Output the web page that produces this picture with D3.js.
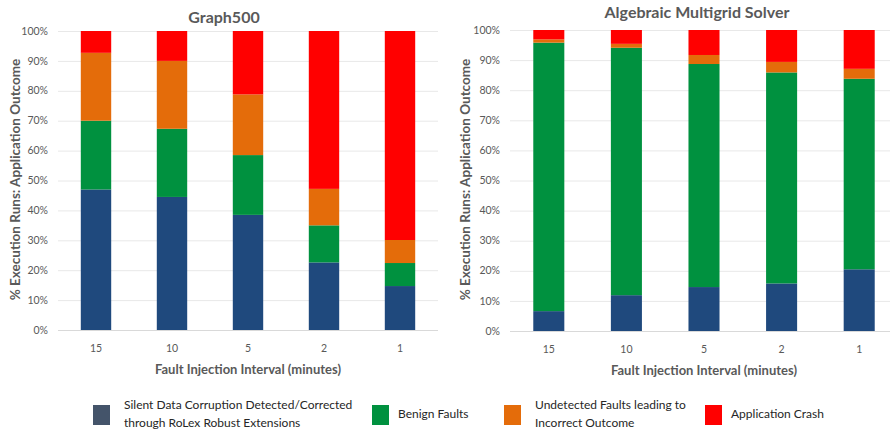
<!DOCTYPE html>
<html>
<head>
<meta charset="utf-8">
<script src="https://cdn.jsdelivr.net/npm/d3@7"></script>
<style>
  body { margin: 0; background: #fff; }
  text { font-family: Lato, "Open Sans", sans-serif; }
</style>
</head>
<body>
<svg></svg>
<script>
// Categories and series
let intervals = ["15", "10", "5", "2", "1"];
let seriesKeys = ["sdc", "benign", "undetected", "crash"];
let seriesLabels = [
    ["Silent Data Corruption Detected/Corrected", "through RoLex Robust Extensions"],
    ["Benign Faults"],
    ["Undetected Faults leading to", "Incorrect Outcome"],
    ["Application Crash"]
];
let yTicks = [0, 10, 20, 30, 40, 50, 60, 70, 80, 90, 100];

// Graph500 (% of runs)
let g500Sdc = [47.0, 44.5, 38.5, 22.6, 14.7];
let g500Benign = [23.0, 22.8, 20.0, 12.4, 7.7];
let g500Undetected = [22.7, 22.7, 20.3, 12.2, 7.7];
let g500Crash = [7.3, 10.0, 21.2, 52.8, 69.9];

// Algebraic Multigrid Solver (% of runs)
let amgSdc = [6.6, 11.9, 14.6, 15.8, 20.5];
let amgBenign = [89.2, 82.2, 74.1, 70.1, 63.3];
let amgUndetected = [1.1, 1.3, 3.0, 3.5, 3.3];
let amgCrash = [3.1, 4.6, 8.3, 10.6, 12.9];

let width = 890,
    height = 435;

let barColors = ["#1F497D", "#00913F", "#E46C0A", "#FF0000"];
let legendColors = ["#44546A", "#00913F", "#E46C0A", "#FF0000"];
let textGray = "#595959";

let svg = d3.select("svg")
    .attr("width", width)
    .attr("height", height);

// Build rows for d3.stack
function makeRows(sdc, benign, undetected, crash) {
    return intervals.map((k, i) => ({
        interval: k, sdc: sdc[i], benign: benign[i],
        undetected: undetected[i], crash: crash[i]
    }));
}

let panels = [
    {
        title: "Graph500", titleX: 224, titleY: 23,
        x0: 58, x1: 438, gridEnd: 438, top: 31, bottom: 330, yTitleX: 15,
        rows: makeRows(g500Sdc, g500Benign, g500Undetected, g500Crash)
    },
    {
        title: "Algebraic Multigrid Solver", titleX: 697, titleY: 18,
        x0: 510, x1: 898, gridEnd: 890, top: 30, bottom: 331, yTitleX: 465,
        rows: makeRows(amgSdc, amgBenign, amgUndetected, amgCrash)
    }
];

let stack = d3.stack().keys(seriesKeys);

panels.forEach(p => {
    let x = d3.scaleBand()
        .domain(intervals)
        .range([p.x0, p.x1])
        .paddingInner(0.6)
        .paddingOuter(0.3);

    let y = d3.scaleLinear()
        .domain([0, 100])
        .range([p.bottom, p.top]);

    let g = svg.append("g");

    // Gridlines
    g.selectAll("line.grid")
        .data(yTicks)
        .enter().append("line")
        .attr("x1", p.x0)
        .attr("x2", p.gridEnd)
        .attr("y1", d => y(d) + 0.5)
        .attr("y2", d => y(d) + 0.5)
        .style("stroke", d => d === 0 ? "#d9d9d9" : "#e8e8e8")
        .style("stroke-width", "1px");

    // Y tick labels
    g.selectAll("text.ytick")
        .data(yTicks)
        .enter().append("text")
        .attr("x", p.x0 - 10)
        .attr("y", d => y(d))
        .attr("dy", "0.35em")
        .attr("text-anchor", "end")
        .style("font-size", "10.5px")
        .style("fill", textGray)
        .text(d => d + "%");

    // Stacked bars
    g.selectAll("g.layer")
        .data(stack(p.rows))
        .enter().append("g")
        .style("fill", (d, i) => barColors[i])
        .selectAll("rect")
        .data(d => d)
        .enter().append("rect")
        .attr("x", d => x(d.data.interval))
        .attr("width", x.bandwidth())
        .attr("y", d => y(d[1]))
        .attr("height", d => y(d[0]) - y(d[1]));

    // X tick labels
    g.selectAll("text.xtick")
        .data(intervals)
        .enter().append("text")
        .attr("x", d => x(d) + x.bandwidth() / 2)
        .attr("y", p.bottom + 18)
        .attr("dy", "0.35em")
        .attr("text-anchor", "middle")
        .style("font-size", "10.5px")
        .style("fill", textGray)
        .text(d => d);

    // Axis titles
    g.append("text")
        .attr("x", (p.x0 + p.x1) / 2)
        .attr("y", p.bottom + 39)
        .attr("dy", "0.35em")
        .attr("text-anchor", "middle")
        .style("font-size", "13px")
        .style("font-weight", "bold")
        .style("fill", textGray)
        .text("Fault Injection Interval (minutes)");

    g.append("text")
        .attr("transform", "translate(" + p.yTitleX + "," + ((p.top + p.bottom) / 2 - 1) + ") rotate(-90)")
        .attr("dy", "0.35em")
        .attr("text-anchor", "middle")
        .style("font-size", "13.5px")
        .style("font-weight", "bold")
        .style("fill", textGray)
        .text("% Execution Runs: Application Outcome");

    // Chart title
    g.append("text")
        .attr("x", p.titleX)
        .attr("y", p.titleY)
        .attr("text-anchor", "middle")
        .style("font-size", "16px")
        .style("font-weight", "bold")
        .style("fill", textGray)
        .text(p.title);
});

// Legend
let legendX = [93, 372, 504, 705];
let legend = svg.append("g")
    .selectAll("g")
    .data(seriesLabels)
    .enter().append("g")
    .attr("transform", (d, i) => "translate(" + legendX[i] + ",405)");

legend.append("rect")
    .attr("width", 17)
    .attr("height", 20)
    .style("fill", (d, i) => legendColors[i]);

legend.each(function(lines) {
    let t = d3.select(this).append("text")
        .attr("x", lines.length > 1 ? 31 : 26)
        .style("font-size", "12px")
        .style("fill", "#262626");
    lines.forEach((line, j) => {
        t.append("tspan")
            .attr("x", lines.length > 1 ? 31 : 26)
            .attr("y", lines.length > 1 ? 0 + j * 18 : 9)
            .attr("dy", "0.35em")
            .text(line);
    });
});
</script>
</body>
</html>
